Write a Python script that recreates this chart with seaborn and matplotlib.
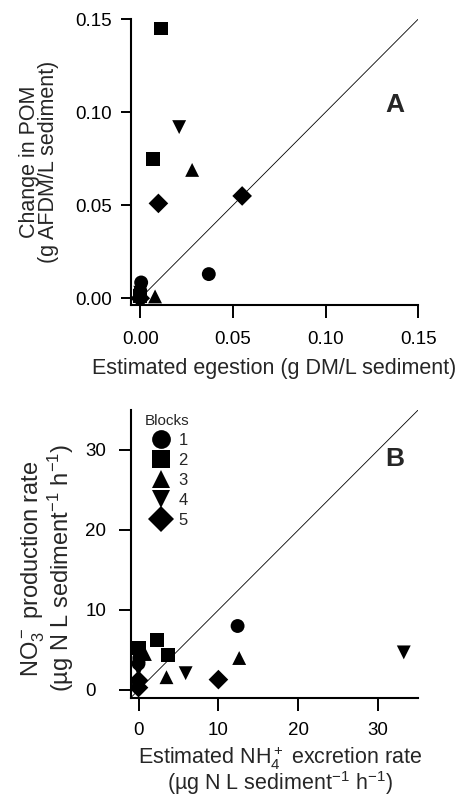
import matplotlib
matplotlib.use("Agg")
import matplotlib.pyplot as plt
import seaborn as sns
import pandas as pd

# Panel A: estimated egestion vs change in POM
egestion = [0.037, 0.0005, 0.0, 0.011, 0.007, 0.0, 0.028, 0.008, 0.0,
            0.021, 0.0, 0.0, 0.055, 0.0098, 0.0]
pom_change = [0.013, 0.0085, 0.004, 0.145, 0.075, 0.001, 0.069, 0.001, 0.002,
              0.092, 0.003, 0.0, 0.055, 0.051, 0.0]
# Panel B: estimated NH4+ excretion vs NO3- production
excretion = [12.4, 0.1, 0.0, 2.3, 3.7, 0.1, 12.6, 3.5, 0.8,
             33.2, 5.9, 0.0, 10.0, 0.0, 0.0]
no3_prod = [8.0, 4.0, 3.3, 6.3, 4.4, 5.2, 4.0, 1.6, 4.5,
            4.7, 2.1, 2.6, 1.3, 1.2, 0.3]
blocks = ["1", "1", "1", "2", "2", "2", "3", "3", "3",
          "4", "4", "4", "5", "5", "5"]

block_markers = {"1": "o", "2": "s", "3": "^", "4": "v", "5": "D"}
xlim_a = (-0.005, 0.15)
ylim_a = (-0.0035, 0.15)
lim_b = (-1, 35)

df_a = pd.DataFrame({"egestion": egestion, "pom": pom_change, "block": blocks})
df_b = pd.DataFrame({"excretion": excretion, "no3": no3_prod, "block": blocks})

sns.set_style("ticks")
plt.rcParams["font.family"] = ["Liberation Sans", "DejaVu Sans"]
plt.rcParams["mathtext.fontset"] = "custom"
plt.rcParams["mathtext.rm"] = "Liberation Sans"
plt.rcParams["mathtext.it"] = "Liberation Sans"
plt.rcParams["mathtext.bf"] = "Liberation Sans:bold"

fig = plt.figure(figsize=(4.58, 8), dpi=100)
ax_a = fig.add_axes([0.286, 0.619, 0.627, 0.357])
ax_b = fig.add_axes([0.285, 0.1275, 0.628, 0.36])

sns.scatterplot(data=df_a, x="egestion", y="pom", style="block",
                markers=block_markers, color="black", s=100, linewidth=0,
                legend=False, ax=ax_a)
ax_a.plot([0, 0.15], [0, 0.15], color="black", lw=0.6)
ax_a.set_xlim(xlim_a)
ax_a.set_ylim(ylim_a)
ax_a.set_xticks([0, 0.05, 0.10, 0.15])
ax_a.set_yticks([0, 0.05, 0.10, 0.15])
ax_a.set_xticklabels(["0.00", "0.05", "0.10", "0.15"])
ax_a.set_yticklabels(["0.00", "0.05", "0.10", "0.15"])
ax_a.set_xlabel("Estimated egestion (g DM/L sediment)", fontsize=15.5)
ax_a.set_ylabel("Change in POM\n(g AFDM/L sediment)", fontsize=15.5,
                linespacing=0.9)
ax_a.xaxis.set_label_coords(0.5, -0.185)
ax_a.yaxis.set_label_coords(-0.25, 0.5)
ax_a.text(0.92, 0.7, "A", transform=ax_a.transAxes, fontsize=19,
          fontweight="bold", ha="center", va="center")

sns.scatterplot(data=df_b, x="excretion", y="no3", style="block",
                markers=block_markers, color="black", s=100, linewidth=0,
                ax=ax_b)
ax_b.plot(lim_b, lim_b, color="black", lw=0.6)
ax_b.set_xlim(lim_b)
ax_b.set_ylim(lim_b)
ax_b.set_xticks([0, 10, 20, 30])
ax_b.set_yticks([0, 10, 20, 30])
ax_b.set_xlabel("Estimated NH$_4^+$ excretion rate\n"
                "(µg N L sediment$^{-1}$ h$^{-1}$)", fontsize=15.5,
                linespacing=0.85)
ax_b.set_ylabel("NO$_3^-$ production rate\n"
                "(µg N L sediment$^{-1}$ h$^{-1}$)", fontsize=17,
                linespacing=0.95)
ax_b.xaxis.set_label_coords(0.52, -0.163)
ax_b.yaxis.set_label_coords(-0.19, 0.45)
ax_b.text(0.92, 0.83, "B", transform=ax_b.transAxes, fontsize=19,
          fontweight="bold", ha="center", va="center")
sns.move_legend(ax_b, "upper left", bbox_to_anchor=(0.025, 1.01),
                frameon=False, title="Blocks", fontsize=12, title_fontsize=11,
                handletextpad=0.05, labelspacing=0.3, borderaxespad=0,
                markerscale=1.35)
ax_b.get_legend()._legend_box.align = "left"

for ax in (ax_a, ax_b):
    sns.despine(ax=ax)
    for side in ("left", "bottom"):
        ax.spines[side].set_linewidth(1.5)
        ax.spines[side].set_color("black")
    ax.tick_params(direction="out", width=1.4, labelsize=13.5, colors="black")

ax_a.tick_params(axis="x", length=9, pad=10)
ax_a.tick_params(axis="y", length=7, pad=7)
ax_b.tick_params(axis="x", length=9, pad=8)
ax_b.tick_params(axis="y", length=8.5, pad=24)
for lab in ax_b.get_yticklabels():
    lab.set_horizontalalignment("left")

fig.savefig("out.png", dpi=100)
